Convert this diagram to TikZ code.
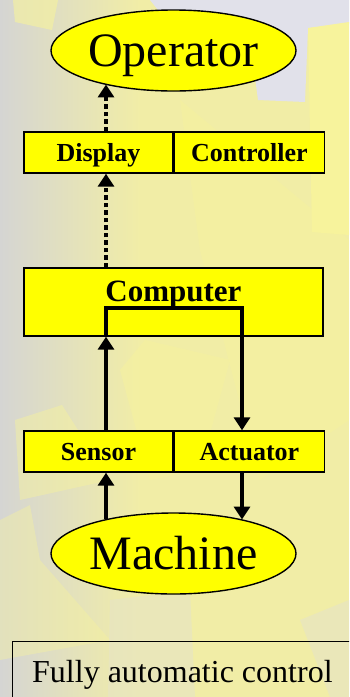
\documentclass[tikz,border=0pt]{standalone}
\usepackage{fontspec}
\setmainfont{Liberation Serif}
\usetikzlibrary{shapes.geometric,arrows.meta}

\definecolor{boxyellow}{HTML}{FFFF00}
\definecolor{bgyellow}{HTML}{F1EDA6}
\definecolor{bggray}{HTML}{D5D5D3}
\definecolor{bglight}{HTML}{F7F39C}
\definecolor{bglilac}{HTML}{E1E1EA}
\definecolor{bgpale}{HTML}{E6E4C6}

\tikzset{
  oval/.style={ellipse, draw, line width=1.4pt, fill=boxyellow,
    minimum width=245pt, minimum height=81pt, inner sep=0pt,
    font=\fontsize{48}{48}\selectfont, text height=32pt, text depth=0pt},
  cell/.style={rectangle, draw, line width=1.4pt, fill=boxyellow,
    minimum height=41pt, inner sep=0pt,
    font=\bfseries\fontsize{26}{26}\selectfont, text height=17pt, text depth=0pt},
  flow/.style={line width=4.4pt, -{Triangle[width=16pt,length=13pt]}},
  dotflow/.style={flow, dash pattern=on 4.5pt off 3pt},
}

\begin{document}
\begin{tikzpicture}[x=1pt,y=-1pt]
\useasboundingbox (0,0) rectangle (349,697);
\clip (0,0) rectangle (349,697);

% textured backdrop
\fill[bgyellow] (0,0) rectangle (349,697);
\shade[left color=bggray, right color=bgyellow] (0,0) rectangle (140,697);
\fill[bglilac] (150,0) -- (349,0) -- (349,24) -- (308,28) -- (305,102) -- (258,100) -- (250,40) -- (170,25) -- cycle;
\fill[bglight] (308,28) -- (349,22) -- (349,235) -- (312,232) -- cycle;
\fill[bglight, opacity=0.6] (13,0) -- (58,0) -- (52,30) -- (15,22) -- cycle;
\fill[bglight, opacity=0.45] (120,370) -- (145,340) -- (230,360) -- (200,470) -- (150,480) -- cycle;
\fill[bglight, opacity=0.45] (15,420) -- (62,405) -- (110,480) -- (20,500) -- cycle;
\fill[bglight, opacity=0.45] (180,100) -- (349,240) -- (349,420) -- (260,480) -- (200,250) -- cycle;
\fill[bglight, opacity=0.4] (0,520) -- (30,505) -- (40,560) -- (110,640) -- (0,660) -- cycle;
\fill[bgpale, opacity=0.6] (110,600) -- (190,590) -- (195,697) -- (108,697) -- cycle;
\fill[bgpale, opacity=0.6] (300,620) -- (349,600) -- (349,697) -- (330,697) -- cycle;

% guide columns for the vertical connectors
\coordinate (lx) at (106,0);
\coordinate (rx) at (242,0);

% nodes
\node[oval] (op) at (173.5,50.5) {Operator};
\node[cell, minimum width=149pt] (disp) at (98.5,152.5) {Display};
\node[cell, minimum width=150pt, anchor=west] (ctrl) at (disp.east) {Controller};

\node[cell, minimum width=299pt, minimum height=68pt] (comp) at (173.5,302) {};
\node[font=\bfseries\fontsize{31}{31}\selectfont, anchor=base, inner sep=0pt] (comptext) at (173.5,301) {Computer};

\node[cell, minimum width=149pt] (sens) at (98.5,451.5) {Sensor};
\node[cell, minimum width=150pt, anchor=west] (act) at (sens.east) {Actuator};

\node[oval] (mach) at (173.5,553.5) {Machine};

\node[draw, line width=1.2pt, anchor=north west, minimum width=370pt,
      minimum height=80pt, inner sep=0pt] (capbox) at (12,641) {};
\node[anchor=base west, inner sep=0pt, font=\fontsize{32}{32}\selectfont] (captext) at (32,682) {Fully automatic control};

% connectors
\coordinate (turnL) at (106,308);
\coordinate (turnR) at (242,308);

\draw[dotflow] (comp.north -| lx) -- (disp.south -| lx);
\draw[dotflow] (disp.north -| lx) -- (lx |- op.206.6);

\draw[flow] (sens.north -| lx) -- (comp.south -| lx);
\draw[flow] (comp.south -| lx) -- (turnL) -- (turnR) -- (act.north -| rx);

\draw[flow] (lx |- mach.153.4) -- (sens.south -| lx);
\draw[flow] (act.south -| rx) -- (rx |- mach.26.1);
\end{tikzpicture}
\end{document}
